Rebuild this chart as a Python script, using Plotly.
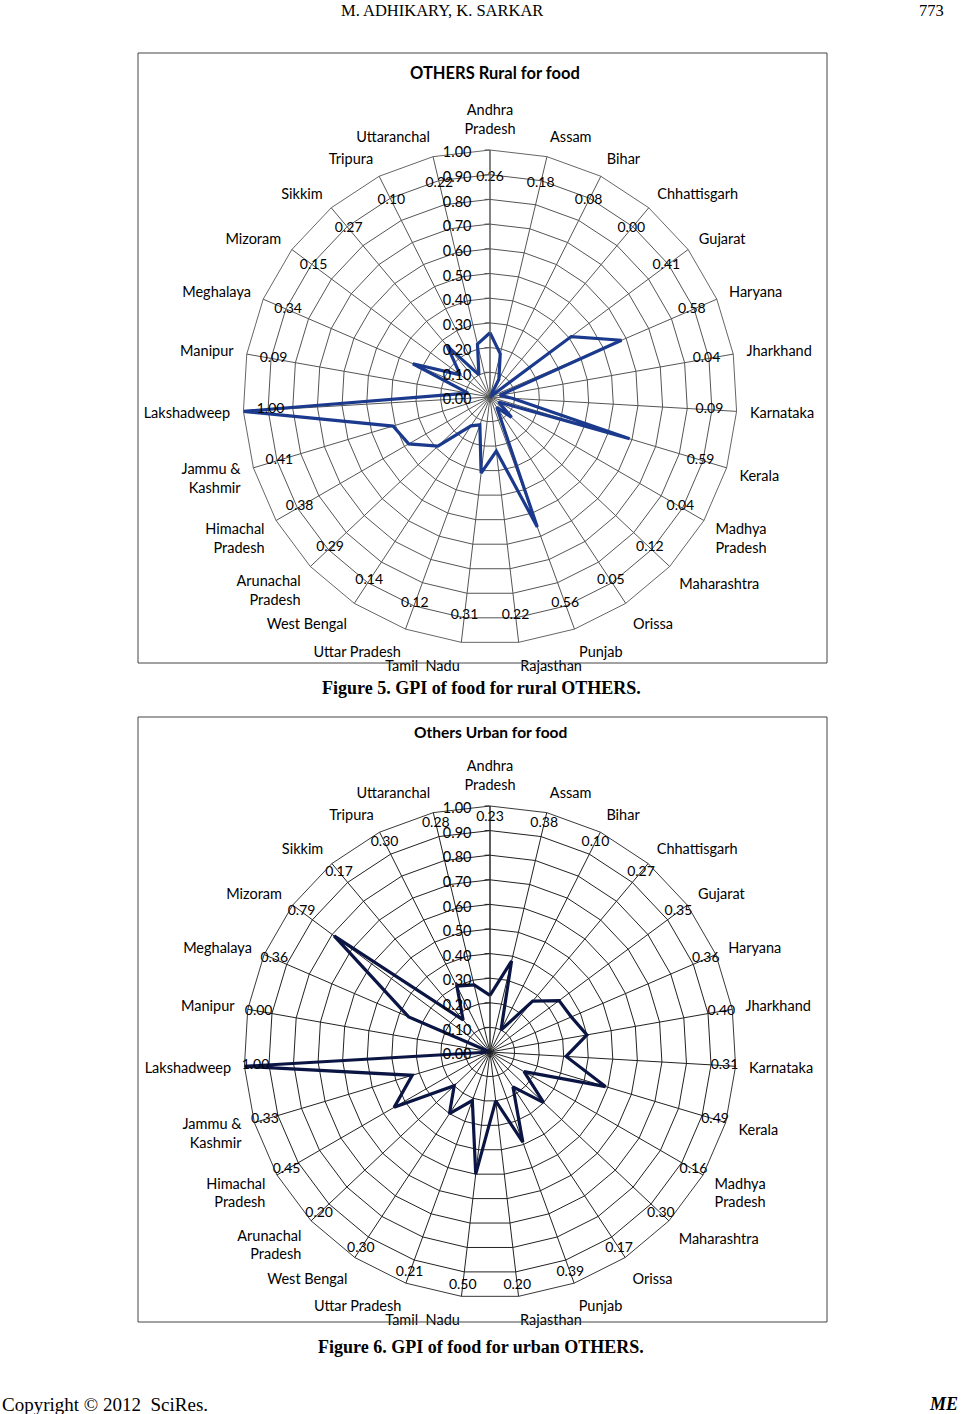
import plotly.graph_objects as go

states = ["Andhra Pradesh", "Assam", "Bihar", "Chhattisgarh", "Gujarat", "Haryana",
          "Jharkhand", "Karnataka", "Kerala", "Madhya Pradesh", "Maharashtra", "Orissa",
          "Punjab", "Rajasthan", "Tamil Nadu", "Uttar Pradesh", "West Bengal",
          "Arunachal Pradesh", "Himachal Pradesh", "Jammu & Kashmir", "Lakshadweep",
          "Manipur", "Meghalaya", "Mizoram", "Sikkim", "Tripura", "Uttaranchal"]
state_labels = ["Andhra<br>Pradesh", "Assam", "Bihar", "Chhattisgarh", "Gujarat", "Haryana",
                "Jharkhand", "Karnataka", "Kerala", "Madhya<br>Pradesh", "Maharashtra", "Orissa",
                "Punjab", "Rajasthan", "Tamil  Nadu", "Uttar Pradesh", "West Bengal",
                "Arunachal<br>Pradesh", "Himachal<br>Pradesh", "Jammu &<br>Kashmir", "Lakshadweep",
                "Manipur", "Meghalaya", "Mizoram", "Sikkim", "Tripura", "Uttaranchal"]
rural = [0.26, 0.18, 0.08, 0.00, 0.41, 0.58, 0.04, 0.09, 0.59, 0.04, 0.12, 0.05, 0.56,
         0.22, 0.31, 0.12, 0.14, 0.29, 0.38, 0.41, 1.00, 0.09, 0.34, 0.15, 0.27, 0.10, 0.22]
urban = [0.23, 0.38, 0.10, 0.27, 0.35, 0.36, 0.40, 0.31, 0.49, 0.16, 0.30, 0.17, 0.39,
         0.20, 0.50, 0.21, 0.30, 0.20, 0.45, 0.33, 1.00, 0.00, 0.36, 0.79, 0.17, 0.30, 0.28]
radial_ticks = [0.0, 0.1, 0.2, 0.3, 0.4, 0.5, 0.6, 0.7, 0.8, 0.9, 1.0]

# body margin is removed via post_script, so figure coords = page coords
W, H = 965, 1414
def px(x): return x / W
def py(y): return 1 - y / H

fig = go.Figure()

def add_chart(values, polar, color, label_r):
    fig.add_trace(go.Scatterpolar(
        r=values + [values[0]], theta=states + [states[0]], mode="lines",
        line=dict(color=color, width=3.2), subplot=polar, showlegend=False,
        hoverinfo="skip"))
    fig.add_trace(go.Scatterpolar(
        r=[label_r] * len(states), theta=states, mode="text",
        text=[f"{v:.2f}" for v in values],
        textfont=dict(family="Lato", size=14, color="black"),
        subplot=polar, showlegend=False, hoverinfo="skip"))

add_chart(rural, "polar", "#1b3a8e", 0.89)
add_chart(urban, "polar2", "#0b1543", 0.955)

def polar_layout(x0, x1, y0, y1, gcol):
    return dict(
        domain=dict(x=[px(x0), px(x1)], y=[py(y1), py(y0)]),
        gridshape="linear",
        bgcolor="white",
        angularaxis=dict(
            type="category", categoryorder="array", categoryarray=states,
            tickvals=states, ticktext=state_labels,
            rotation=90, direction="clockwise",
            showline=True, linecolor=gcol, linewidth=0.9,
            gridcolor=gcol, gridwidth=0.7,
            ticks="outside", ticklen=10, tickcolor="rgba(0,0,0,0)",
            tickfont=dict(family="Lato", size=14.5, color="black")),
        radialaxis=dict(
            range=[0, 1], tickvals=radial_ticks, tickformat=".2f",
            angle=90, side="counterclockwise",
            showline=True, linecolor=gcol, linewidth=0.9,
            gridcolor=gcol, gridwidth=0.7,
            ticks="outside", ticklen=5, tickcolor=gcol,
            tickfont=dict(family="Lato", size=14.5, color="black")),
    )

fig.update_layout(
    width=W, height=H, margin=dict(l=0, r=0, t=0, b=0),
    paper_bgcolor="white", plot_bgcolor="white",
    polar=polar_layout(243, 737, 150, 644, "#555"),
    polar2=polar_layout(244, 736, 806, 1298, "#222"),
    shapes=[
        dict(type="rect", xref="paper", yref="paper", x0=px(138), x1=px(827),
             y0=py(663), y1=py(53), line=dict(color="#444", width=1)),
        dict(type="rect", xref="paper", yref="paper", x0=px(138), x1=px(827),
             y0=py(1322), y1=py(717), line=dict(color="#444", width=1)),
    ],
)

def ann(text, x, y, size, family, xanchor="center", bold=False, italic=False):
    if bold:
        text = f"<b>{text}</b>"
    if italic:
        text = f"<i>{text}</i>"
    fig.add_annotation(text=text, x=px(x), y=py(y), xref="paper", yref="paper",
                       xanchor=xanchor, yanchor="middle", showarrow=False,
                       font=dict(family=family, size=size, color="black"))

ann("M. ADHIKARY, K. SARKAR", 442, 11, 16.5, "Liberation Serif")
ann("773", 946, 11, 16.5, "Liberation Serif", xanchor="right")
ann("OTHERS Rural for food", 495, 73, 16.5, "Lato", bold=True)
ann("Others Urban for food", 491, 732, 15.5, "Lato", bold=True)
ann("Figure 5. GPI of food for rural OTHERS.", 481, 688, 18, "Liberation Serif", bold=True)
ann("Figure 6. GPI of food for urban OTHERS.", 481, 1347, 18, "Liberation Serif", bold=True)
ann("Copyright © 2012  SciRes.", 0, 1404, 19, "Liberation Serif", xanchor="left")
ann("ME", 960, 1404, 18, "Liberation Serif", xanchor="right", bold=True, italic=True)

fig.write_html("out.html", config={"displayModeBar": False},
               post_script="document.body.style.margin='0px';document.body.style.overflow='hidden';")
